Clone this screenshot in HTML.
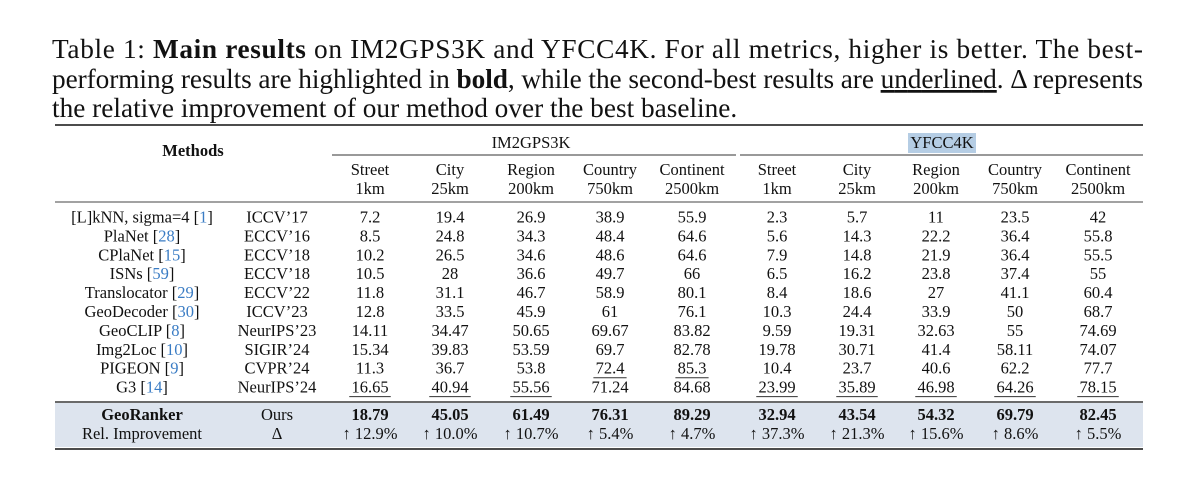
<!DOCTYPE html>
<html><head><meta charset="utf-8"><style>
html,body{margin:0;padding:0;background:#fff;}
svg{display:block;}
text{font-family:"Liberation Serif","DejaVu Serif",serif;fill:#111;}
</style></head><body>
<svg width="1200" height="482" viewBox="0 0 1200 482" xmlns="http://www.w3.org/2000/svg">
<g font-size="27.3">
<text x="52" y="58" textLength="1091" lengthAdjust="spacing">Table 1: <tspan font-weight="bold">Main results</tspan> on IM2GPS3K and YFCC4K. For all metrics, higher is better.  The best-</text>
<text x="52" y="88" textLength="1091" lengthAdjust="spacing">performing results are highlighted in <tspan font-weight="bold">bold</tspan>, while the second-best results are <tspan text-decoration="underline">underlined</tspan>. Δ represents</text>
<text x="52" y="117">the relative improvement of our method over the best baseline.</text>
</g>
<rect x="55" y="403" width="1088" height="44" fill="#dde4ee"/>
<rect x="908" y="133" width="68" height="20" fill="#b5cde4"/>
<line x1="55" y1="125" x2="1143" y2="125" stroke="#111" stroke-width="1.4"/>
<line x1="332" y1="155" x2="736" y2="155" stroke="#333" stroke-width="1"/>
<line x1="740" y1="155" x2="1143" y2="155" stroke="#333" stroke-width="1"/>
<line x1="55" y1="202" x2="1143" y2="202" stroke="#444" stroke-width="1"/>
<line x1="55" y1="402" x2="1143" y2="402" stroke="#111" stroke-width="1.3"/>
<line x1="55" y1="449" x2="1143" y2="449" stroke="#111" stroke-width="1.5"/>
<g font-size="16.5" text-anchor="middle">
<text x="193" y="156" font-weight="bold">Methods</text>
<text x="531" y="148">IM2GPS3K</text>
<text x="942" y="148">YFCC4K</text>
<text x="370" y="175">Street</text><text x="370" y="194">1km</text>
<text x="450" y="175">City</text><text x="450" y="194">25km</text>
<text x="531" y="175">Region</text><text x="531" y="194">200km</text>
<text x="610" y="175">Country</text><text x="610" y="194">750km</text>
<text x="692" y="175">Continent</text><text x="692" y="194">2500km</text>
<text x="777" y="175">Street</text><text x="777" y="194">1km</text>
<text x="857" y="175">City</text><text x="857" y="194">25km</text>
<text x="936" y="175">Region</text><text x="936" y="194">200km</text>
<text x="1015" y="175">Country</text><text x="1015" y="194">750km</text>
<text x="1098" y="175">Continent</text><text x="1098" y="194">2500km</text>
</g>
<g font-size="16.5" text-anchor="middle" id="body"></g>
</svg>
<script>
var rows=[
["[L]kNN, sigma=4 [","1","]","ICCV’17","7.2","19.4","26.9","38.9","55.9","2.3","5.7","11","23.5","42"],
["PlaNet [","28","]","ECCV’16","8.5","24.8","34.3","48.4","64.6","5.6","14.3","22.2","36.4","55.8"],
["CPlaNet [","15","]","ECCV’18","10.2","26.5","34.6","48.6","64.6","7.9","14.8","21.9","36.4","55.5"],
["ISNs [","59","]","ECCV’18","10.5","28","36.6","49.7","66","6.5","16.2","23.8","37.4","55"],
["Translocator [","29","]","ECCV’22","11.8","31.1","46.7","58.9","80.1","8.4","18.6","27","41.1","60.4"],
["GeoDecoder [","30","]","ICCV’23","12.8","33.5","45.9","61","76.1","10.3","24.4","33.9","50","68.7"],
["GeoCLIP [","8","]","NeurIPS’23","14.11","34.47","50.65","69.67","83.82","9.59","19.31","32.63","55","74.69"],
["Img2Loc [","10","]","SIGIR’24","15.34","39.83","53.59","69.7","82.78","19.78","30.71","41.4","58.11","74.07"],
["PIGEON [","9","]","CVPR’24","11.3","36.7","53.8","_72.4","_85.3","10.4","23.7","40.6","62.2","77.7"],
["G3 [","14","]","NeurIPS’24","_16.65","_40.94","_55.56","71.24","84.68","_23.99","_35.89","_46.98","_64.26","_78.15"]];
var xs=[370,450,531,610,692,777,857,936,1015,1098];
var ns="http://www.w3.org/2000/svg",g=document.getElementById("body");
function t(x,y,s,attrs){var e=document.createElementNS(ns,"text");e.setAttribute("x",x);e.setAttribute("y",y);for(var k in attrs)e.setAttribute(k,attrs[k]);e.textContent=s;g.appendChild(e);return e;}
rows.forEach(function(r,i){
 var y=222.5+i*18.9;
 var e=t(142,y,"",{});
 var a=document.createElementNS(ns,"tspan");a.textContent=r[0];e.appendChild(a);
 var b=document.createElementNS(ns,"tspan");b.textContent=r[1];b.setAttribute("style","fill:#3a7cc4");e.appendChild(b);
 var c=document.createElementNS(ns,"tspan");c.textContent=r[2];e.appendChild(c);
 t(277,y,r[3],{});
 for(var j=0;j<10;j++){var v=r[4+j];
  if(v[0]=="_"){v=v.slice(1);var w=v.length*8.3;var l=document.createElementNS(ns,"line");l.setAttribute("x1",xs[j]-w/2);l.setAttribute("x2",xs[j]+w/2);l.setAttribute("y1",y+4);l.setAttribute("y2",y+4);l.setAttribute("stroke","#333");l.setAttribute("stroke-width","1");g.appendChild(l);}
  t(xs[j],y,v,{});}
});
var gr=["18.79","45.05","61.49","76.31","89.29","32.94","43.54","54.32","69.79","82.45"];
var ri=["12.9%","10.0%","10.7%","5.4%","4.7%","37.3%","21.3%","15.6%","8.6%","5.5%"];
t(142,420,"GeoRanker",{"font-weight":"bold"});t(277,420,"Ours",{});
t(142,439,"Rel. Improvement",{});t(277,439,"Δ",{});
for(var j=0;j<10;j++){t(xs[j],420,gr[j],{"font-weight":"bold"});t(xs[j],439,"↑ "+ri[j],{});}
</script>
</body></html>
